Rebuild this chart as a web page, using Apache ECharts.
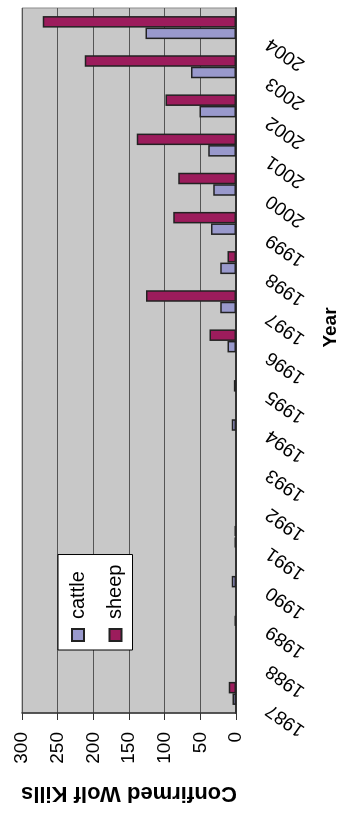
<!DOCTYPE html>
<html>
<head>
<meta charset="utf-8">
<script src="https://cdn.jsdelivr.net/npm/echarts@6/dist/echarts.min.js"></script>
<style>
  html, body { margin: 0; padding: 0; background: #fff; overflow: hidden; }
  body { width: 345px; height: 819px; position: relative; }
  /* The chart is laid out landscape and turned a quarter turn counter-clockwise. */
  #chart {
    position: absolute; left: 0; top: 0;
    width: 819px; height: 345px;
    transform-origin: 0 0;
    transform: translateY(819px) rotate(-90deg);
  }
</style>
</head>
<body>
<div id="chart"></div>
<script>
// Confirmed wolf kills of livestock per year
const years = ['1987','1988','1989','1990','1991','1992','1993','1994','1995',
               '1996','1997','1998','1999','2000','2001','2002','2003','2004'];
const cattle = [5, 0, 2, 6, 2, 0, 0, 6, 3, 12, 22, 22, 35, 32, 39, 51, 63, 127];
const sheep  = [10, 0, 0, 0, 2, 0, 0, 0, 0, 37, 126, 12, 88, 81, 139, 99, 212, 271];

const valueMin = 0, valueMax = 300, valueStep = 50;

const FONT = '"Liberation Sans", Arial, sans-serif';

// a zero count draws no bar at all
const barData = arr => arr.map(v => (v === 0 ? null : v));

const chart = echarts.init(document.getElementById('chart'), null, { renderer: 'canvas' });

chart.setOption({
  animation: false,
  textStyle: { fontFamily: FONT, color: '#000' },
  grid: {
    left: 106, right: 8, top: 22, bottom: 108,
    show: true, backgroundColor: '#c8c8c8', borderColor: '#8c8c8c', borderWidth: 1
  },
  legend: {
    orient: 'vertical',
    left: 169, top: 58,
    padding: [10, 10, 7, 8],
    backgroundColor: '#fff',
    borderColor: '#000', borderWidth: 1, borderRadius: 0,
    icon: 'rect',
    itemWidth: 12, itemHeight: 12, itemGap: 17.5,
    textStyle: { fontFamily: FONT, fontSize: 20, lineHeight: 20, color: '#000', padding: [0, 0, 0, 5] },
    data: ['cattle', 'sheep']
  },
  xAxis: {
    type: 'category',
    data: years,
    boundaryGap: true,
    axisLine: { lineStyle: { color: '#333', width: 2 } },
    axisTick: { length: 6, lineStyle: { color: '#333', width: 1 } },
    axisLabel: {
      interval: 0, rotate: 55, margin: 28,
      align: 'right', verticalAlign: 'bottom', padding: [0, 11.7, 0, 0],
      fontFamily: FONT, fontSize: 19, color: '#000'
    },
    name: 'Year',
    nameLocation: 'middle',
    nameGap: 85,
    nameTextStyle: { fontFamily: FONT, fontSize: 19, fontWeight: 'bold', color: '#000', padding: [0, 0, 0, 66] }
  },
  yAxis: {
    type: 'value',
    min: valueMin, max: valueMax, interval: valueStep,
    axisLine: { show: true, lineStyle: { color: '#333', width: 1.5 } },
    axisTick: { show: true, length: 7, lineStyle: { color: '#333' } },
    axisLabel: { fontFamily: FONT, fontSize: 19, margin: 19, color: '#000' },
    splitLine: { lineStyle: { color: '#555', width: 1.2 } },
    name: 'Confirmed Wolf Kills',
    nameLocation: 'middle',
    nameRotate: 90,
    nameGap: 69,
    nameTextStyle: { fontFamily: FONT, fontSize: 22, fontWeight: 'bold', color: '#000' }
  },
  series: [
    {
      name: 'cattle', type: 'bar', data: barData(cattle),
      barWidth: 11.5, barGap: '0%',
      itemStyle: { color: '#9999cc', borderColor: '#222', borderWidth: 1.5 }
    },
    {
      name: 'sheep', type: 'bar', data: barData(sheep),
      barWidth: 11.5, barGap: '0%',
      itemStyle: { color: '#9c1c5c', borderColor: '#222', borderWidth: 1.5 }
    }
  ]
});
</script>
</body>
</html>
